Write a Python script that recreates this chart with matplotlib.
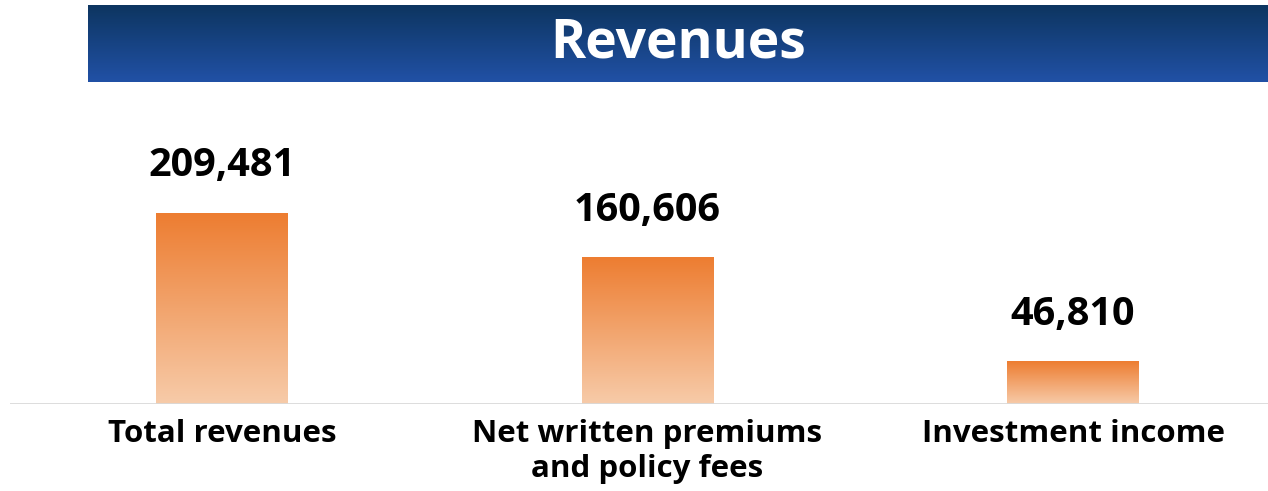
import numpy as np
import matplotlib.pyplot as plt
from matplotlib.colors import LinearSegmentedColormap

# Revenue breakdown
categories = ["Total revenues", "Net written premiums\nand policy fees", "Investment income"]
values = [209481, 160606, 46810]
value_labels = ["209,481", "160,606", "46,810"]

W, H = 1268, 491
fig = plt.figure(figsize=(W / 100, H / 100), dpi=100)
font = "Open Sans"

# ---------- title banner ----------
banner = fig.add_axes([88 / W, (H - 82) / H, (W - 88) / W, 77 / H])
banner_cmap = LinearSegmentedColormap.from_list("banner", ["#0d3560", "#2151a6"])
banner.imshow(np.linspace(0, 1, 256).reshape(-1, 1), cmap=banner_cmap,
              aspect="auto", extent=[0, 1, 0, 1], origin="upper")
banner.set_xlim(0, 1)
banner.set_ylim(0, 1)
banner.axis("off")
banner.text(0.5, 0.5, "Revenues", color="white", fontsize=38.5, fontweight="bold",
            family=font, ha="center", va="center")

# ---------- bars ----------
ax = fig.add_axes([10 / W, (H - 404) / H, (W - 10) / W, 314 / H])
x = np.arange(len(categories))
bar_w = 0.31
bars = ax.bar(x, values, width=bar_w, color="none", edgecolor="none")

bar_cmap = LinearSegmentedColormap.from_list("bar", ["#f7cba9", "#ed7d31"])
grad = np.linspace(1, 0, 256).reshape(-1, 1)
for b in bars:
    x0, h = b.get_x(), b.get_height()
    ax.imshow(grad, cmap=bar_cmap, aspect="auto", origin="upper",
              extent=[x0, x0 + b.get_width(), 0, h], zorder=2)

for xi, v, lab in zip(x, values, value_labels):
    ax.annotate(lab, (xi, v), xytext=(0, 34), textcoords="offset points",
                ha="center", va="center", fontsize=28.5, fontweight="bold",
                family=font, color="black")

ax.set_xlim(-0.498, 2.458)
ax.set_ylim(0, max(values) * 314 / 191)
ax.axhline(0, color="#d9d9d9", lw=2, zorder=3)

ax.set_xticks(x)
ax.set_xticklabels(categories, fontsize=22.5, fontweight="bold", family=font,
                   linespacing=1.22)
ax.tick_params(axis="x", length=0, pad=11)
ax.set_yticks([])
for s in ax.spines.values():
    s.set_visible(False)
ax.patch.set_alpha(0)

fig.savefig("out.png", dpi=100)
